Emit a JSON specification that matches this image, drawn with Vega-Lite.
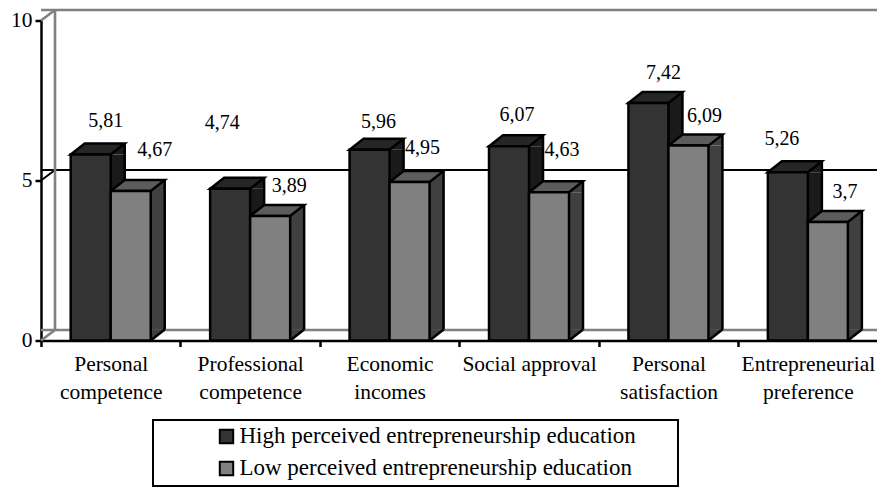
{"$schema":"https://vega.github.io/schema/vega-lite/v6.json","width":836.6,"height":320,"autosize":{"type":"none"},"padding":{"left":41,"top":20.5,"right":0,"bottom":148.5},"background":"white","config":{"view":{"stroke":null},"font":"Liberation Serif","legend":{"strokeWidth":2}},
"datasets":{"bars":[
{"category":"Personal competence","series":"High perceived entrepreneurship education","value":5.81,"label":"5,81"},
{"category":"Personal competence","series":"Low perceived entrepreneurship education","value":4.67,"label":"4,67"},
{"category":"Professional competence","series":"High perceived entrepreneurship education","value":4.74,"label":"4,74"},
{"category":"Professional competence","series":"Low perceived entrepreneurship education","value":3.89,"label":"3,89"},
{"category":"Economic incomes","series":"High perceived entrepreneurship education","value":5.96,"label":"5,96"},
{"category":"Economic incomes","series":"Low perceived entrepreneurship education","value":4.95,"label":"4,95"},
{"category":"Social approval","series":"High perceived entrepreneurship education","value":6.07,"label":"6,07"},
{"category":"Social approval","series":"Low perceived entrepreneurship education","value":4.63,"label":"4,63"},
{"category":"Personal satisfaction","series":"High perceived entrepreneurship education","value":7.42,"label":"7,42"},
{"category":"Personal satisfaction","series":"Low perceived entrepreneurship education","value":6.09,"label":"6,09"},
{"category":"Entrepreneurial preference","series":"High perceived entrepreneurship education","value":5.26,"label":"5,26"},
{"category":"Entrepreneurial preference","series":"Low perceived entrepreneurship education","value":3.7,"label":"3,7"}],
"ticks":[{"tick":0},{"tick":5},{"tick":10}],"wall":[{"bottom":0,"top":10}]},
"layer":[
{"data":{"name":"ticks"},"mark":{"type":"rule","xOffset":14,"yOffset":-10.5},"encoding":{"y":{"field":"tick","type":"quantitative","scale":{"domain":[0,10]},"axis":{"values":[0,5,10],"title":null,"grid":false,"domainColor":"black","domainWidth":2.5,"tickColor":"black","tickWidth":2.5,"tickSize":6,"labelFontSize":21.5,"labelFont":"Liberation Serif","labelColor":"black","labelPadding":3}},"color":{"condition":{"test":"datum.tick==5","value":"black"},"value":"#808080"},"strokeWidth":{"condition":{"test":"datum.tick==5","value":2},"value":2.6}}},
{"data":{"name":"ticks"},"mark":{"type":"point","shape":"M0,0L14,-10.5","size":4,"filled":false,"opacity":1},"encoding":{"x":{"value":0},"y":{"field":"tick","type":"quantitative"},"stroke":{"condition":{"test":"datum.tick==5","value":"black"},"value":"#808080"},"strokeWidth":{"condition":{"test":"datum.tick==5","value":2},"value":2.6}}},
{"data":{"name":"wall"},"mark":{"type":"rule","strokeWidth":2.6,"color":"#808080","xOffset":14,"yOffset":-10.5,"y2Offset":-10.5},"encoding":{"x":{"value":0},"y":{"field":"top","type":"quantitative"},"y2":{"field":"bottom"}}},
{"data":{"name":"bars"},"transform":[{"filter":"indexof(datum.series,'High')==0"}],"mark":{"type":"bar","width":14,"xOffset":7,"y2Offset":-11,"fill":"#1a1a1a"},"encoding":{"x":{"field":"category","type":"nominal","sort":null},"y":{"field":"value","type":"quantitative","stack":null},"y2":{"datum":0}}},
{"data":{"name":"bars"},"transform":[{"filter":"indexof(datum.series,'Low')==0"}],"mark":{"type":"bar","width":14,"xOffset":47,"y2Offset":-11,"fill":"#404040"},"encoding":{"x":{"field":"category","type":"nominal","sort":null},"y":{"field":"value","type":"quantitative","stack":null},"y2":{"datum":0}}},
{"data":{"name":"bars"},"mark":{"type":"point","shape":"M20,0L34,-11L34,0Z","size":4,"filled":true,"opacity":1},"encoding":{"x":{"field":"category","type":"nominal","sort":null},"xOffset":{"field":"series"},"y":{"field":"value","type":"quantitative"},"fill":{"condition":{"test":"indexof(datum.series,'High')==0","value":"#1a1a1a"},"value":"#404040"}}},
{"data":{"name":"bars"},"mark":{"type":"point","shape":"M20,0L34,-11L20,-11Z","size":4,"filled":true,"opacity":1},"encoding":{"x":{"field":"category","type":"nominal","sort":null},"xOffset":{"field":"series"},"y":{"datum":0},"fill":{"condition":{"test":"indexof(datum.series,'High')==0","value":"#1a1a1a"},"value":"#404040"}}},
{"data":{"name":"bars"},"mark":{"type":"point","shape":"M20,0L34,-11","size":4,"filled":false,"opacity":1,"stroke":"black","strokeWidth":2.5},"encoding":{"x":{"field":"category","type":"nominal","sort":null},"xOffset":{"field":"series"},"y":{"datum":0}}},
{"data":{"name":"bars"},"transform":[{"filter":"indexof(datum.series,'High')==0"}],"mark":{"type":"bar","width":2.5,"xOffset":14,"yOffset":-11,"y2Offset":-11,"fill":"black"},"encoding":{"x":{"field":"category","type":"nominal","sort":null},"y":{"field":"value","type":"quantitative","stack":null},"y2":{"datum":0}}},
{"data":{"name":"bars"},"transform":[{"filter":"indexof(datum.series,'Low')==0"}],"mark":{"type":"bar","width":2.5,"xOffset":54,"yOffset":-11,"y2Offset":-11,"fill":"black"},"encoding":{"x":{"field":"category","type":"nominal","sort":null},"y":{"field":"value","type":"quantitative","stack":null},"y2":{"datum":0}}},
{"data":{"name":"bars"},"mark":{"type":"point","shape":"M-20,0L-6,-11L34,-11L20,0Z","size":4,"filled":true,"opacity":1,"stroke":"black","strokeWidth":2.5},"encoding":{"x":{"field":"category","type":"nominal","sort":null},"xOffset":{"field":"series"},"y":{"field":"value","type":"quantitative"},"fill":{"condition":{"test":"indexof(datum.series,'High')==0","value":"#262626"},"value":"#5c5c5c"}}},
{"data":{"name":"bars"},"mark":{"type":"bar","stroke":"black","strokeWidth":2.5},"encoding":{"x":{"field":"category","type":"nominal","sort":null,"title":null,"scale":{"paddingInner":0,"paddingOuter":0},"axis":{"title":null,"labelAngle":0,"labelAlign":"center","labelBaseline":"top","tickBand":"extent","domainColor":"black","domainWidth":2.5,"tickColor":"black","tickWidth":2.5,"tickSize":6,"labelFontSize":21.5,"labelLineHeight":28.5,"labelFont":"Liberation Serif","labelColor":"black","labelPadding":7,"labelLimit":300,"labelOverlap":false,"labelBound":false,"labelExpr":"datum.label=='Social approval'?datum.label:split(datum.label,' ')"}},"xOffset":{"field":"series","scale":{"paddingInner":0,"paddingOuter":0.7425}},"y":{"field":"value","type":"quantitative","stack":null},"color":{"field":"series","type":"nominal","scale":{"range":["#333333","#808080"]},"legend":{"title":" ","titleOrient":"right","titlePadding":37,"orient":"none","legendX":112,"legendY":399.5,"direction":"vertical","fillColor":"white","strokeColor":"black","padding":5,"symbolOffset":57,"symbolType":"square","symbolSize":180,"symbolStrokeColor":"black","symbolStrokeWidth":2,"labelFontSize":23,"labelFont":"Liberation Serif","labelColor":"black","labelLimit":600,"labelOffset":1.5,"rowPadding":8}}}},
{"data":{"name":"bars"},"mark":{"type":"text","fontSize":20,"font":"Liberation Serif","color":"black","align":"center","baseline":"middle","dx":{"expr":"{'5,81':15,'4,74':-8,'5,96':9,'6,07':8,'7,42':15,'5,26':-6,'4,67':24,'3,89':19,'4,95':13,'4,63':13,'6,09':16,'3,7':17}[datum.label]"},"dy":{"expr":"{'5,81':-34,'4,74':-66,'5,96':-28,'6,07':-31,'7,42':-30,'5,26':-33,'4,67':-41,'3,89':-30,'4,95':-34,'4,63':-42,'6,09':-30,'3,7':-30}[datum.label]"}},"encoding":{"x":{"field":"category","type":"nominal","sort":null},"xOffset":{"field":"series"},"y":{"field":"value","type":"quantitative"},"text":{"field":"label"}}}
]}
